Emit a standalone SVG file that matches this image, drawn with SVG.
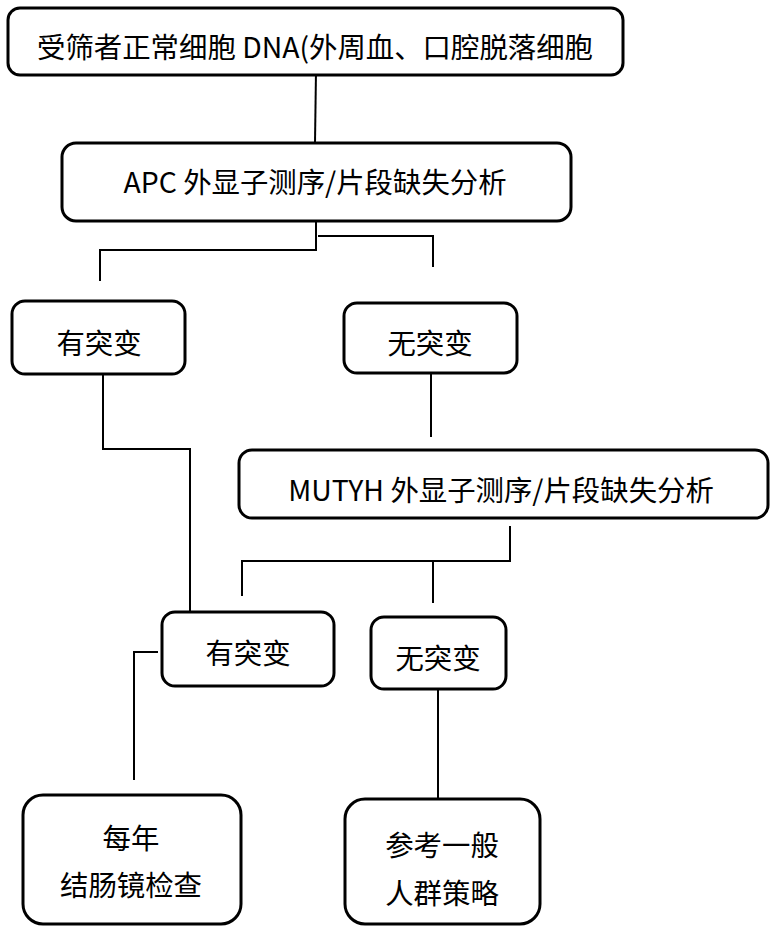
<svg xmlns="http://www.w3.org/2000/svg" width="772" height="930" viewBox="0 0 772 930">
<style>
.box{fill:#fff;stroke:#000;stroke-width:3}
.t{font-family:"Noto Sans CJK SC","Microsoft YaHei",sans-serif;font-size:28.4px;fill:#000;text-anchor:middle}
.c{fill:none;stroke:#000;stroke-width:2}
</style>
<rect width="772" height="930" fill="#fff"/>
<g id="connectors">
<path class="c" d="M316,71 L315,143"/>
<path class="c" d="M316,221 V250 H100 V281"/>
<path class="c" d="M318,236 H433 V267"/>
<path class="c" d="M103,374 V449 H190 V612"/>
<path class="c" d="M431,373 V437"/>
<path class="c" d="M510,526 V561 H242 V596"/>
<path class="c" d="M433,561 V603"/>
<path class="c" d="M158,652 H134 V780"/>
<path class="c" d="M438,680 V799"/>
</g>
<g id="n1"><rect class="box" x="8" y="8" width="615" height="67" rx="12"/><text class="t" x="315" y="58">受筛者正常细胞 DNA(外周血、口腔脱落细胞</text></g>
<g id="n2"><rect class="box" x="62" y="143" width="509" height="78" rx="14"/><text class="t" x="315" y="193">APC 外显子测序/片段缺失分析</text></g>
<g id="n3"><rect class="box" x="12" y="301" width="173" height="73" rx="13"/><text class="t" x="99" y="354">有突变</text></g>
<g id="n4"><rect class="box" x="344" y="303" width="173" height="70" rx="13"/><text class="t" x="430" y="354">无突变</text></g>
<g id="n5"><rect class="box" x="239" y="450" width="529" height="68" rx="13"/><text class="t" x="501" y="501">MUTYH 外显子测序/片段缺失分析</text></g>
<g id="n6"><rect class="box" x="162" y="612" width="172" height="74" rx="13"/><text class="t" x="248" y="664">有突变</text></g>
<g id="n7"><rect class="box" x="371" y="617" width="135" height="72" rx="13"/><text class="t" x="438" y="669">无突变</text></g>
<g id="n8"><rect class="box" x="23" y="795" width="218" height="129" rx="20"/><text class="t" x="131" y="849">每年</text><text class="t" x="131" y="896">结肠镜检查</text></g>
<g id="n9"><rect class="box" x="345" y="799" width="195" height="125" rx="20"/><text class="t" x="442" y="856">参考一般</text><text class="t" x="442" y="904">人群策略</text></g>
</svg>
